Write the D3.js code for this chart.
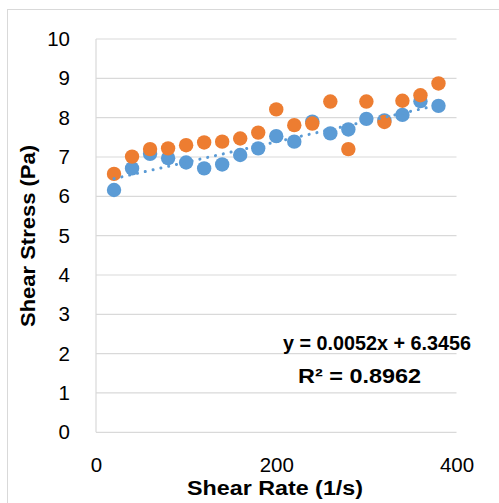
<!DOCTYPE html>
<html>
<head>
<meta charset="utf-8">
<script src="https://cdn.jsdelivr.net/npm/d3@7"></script>
<style>
  body { margin: 0; background: #fff; }
  svg text { font-family: "Liberation Sans", Arial, sans-serif; fill: #000; }
</style>
</head>
<body>
<div id="container"><svg></svg></div>
<script>
let width = 499;
let height = 503;

// shear rate (1/s)
let rates = [20, 40, 60, 80, 100, 120, 140, 160, 180, 200, 220, 240, 260, 280, 300, 320, 340, 360, 380];
// shear stress (Pa), blue series
let stressA = [6.16, 6.71, 7.08, 6.97, 6.86, 6.71, 6.81, 7.05, 7.22, 7.53, 7.39, 7.90, 7.60, 7.70, 7.97, 7.93, 8.07, 8.42, 8.30];
// shear stress (Pa), orange series
let stressB = [6.57, 7.01, 7.20, 7.22, 7.30, 7.37, 7.39, 7.47, 7.62, 8.21, 7.81, 7.85, 8.41, 7.20, 8.41, 7.89, 8.43, 8.57, 8.87];
// linear trendline of blue series, as reported
let trendSlope = 0.0052;
let trendIntercept = 6.3456;
let trendLabels = ["y = 0.0052x + 6.3456", "R\u00b2 = 0.8962"];

let xTicks = [0, 200, 400];
let yTicks = [0, 1, 2, 3, 4, 5, 6, 7, 8, 9, 10];

let svg = d3.select('#container').select('svg')
    .attr('width', width)
    .attr('height', height);

// chart frame
svg.append("rect")
    .attr("x", 7.5).attr("y", 9.5)
    .attr("width", 520).attr("height", 520)
    .attr("fill", "none")
    .attr("stroke", "#d9d9d9")
    .attr("stroke-width", 1);

let x = d3.scaleLinear().domain([0, 400]).range([96, 456.5]);
let y = d3.scaleLinear().domain([0, 10]).range([432.3, 39]);

// gridlines
svg.append("g")
    .selectAll("line")
    .data(yTicks)
    .join("line")
    .attr("x1", x(0)).attr("x2", x(400))
    .attr("y1", d => y(d)).attr("y2", d => y(d))
    .attr("stroke", "#d9d9d9")
    .attr("stroke-width", 1.2);

// left axis line
svg.append("line")
    .attr("x1", x(0)).attr("x2", x(0))
    .attr("y1", y(0)).attr("y2", y(10))
    .attr("stroke", "#d9d9d9")
    .attr("stroke-width", 1.2);

// tick labels
let yAxis = d3.axisLeft(y).tickValues(yTicks).tickSize(0).tickPadding(26);
let ya = svg.append("g").attr("transform", `translate(${x(0)},0)`).call(yAxis);
ya.select(".domain").remove();
ya.selectAll("text").attr("font-size", 20.5).attr("font-family", "Liberation Sans").attr("fill", "#000");

let xAxis = d3.axisBottom(x).tickValues(xTicks).tickSize(0).tickPadding(25);
let xa = svg.append("g").attr("transform", `translate(0,${y(0)})`).call(xAxis);
xa.select(".domain").remove();
xa.selectAll("text").attr("font-size", 20.5).attr("font-family", "Liberation Sans").attr("fill", "#000");

// series markers
svg.append("g")
    .selectAll("circle")
    .data(rates)
    .join("circle")
    .attr("cx", d => x(d))
    .attr("cy", (d, i) => y(stressA[i]))
    .attr("r", 7.2)
    .attr("fill", "#5b9bd5");

svg.append("g")
    .selectAll("circle")
    .data(rates)
    .join("circle")
    .attr("cx", d => x(d))
    .attr("cy", (d, i) => y(stressB[i]))
    .attr("r", 7.2)
    .attr("fill", "#ed7d31");

// dotted trendline
let xr = d3.extent(rates);
svg.append("line")
    .attr("x1", x(xr[0])).attr("y1", y(trendSlope * xr[0] + trendIntercept))
    .attr("x2", x(xr[1])).attr("y2", y(trendSlope * xr[1] + trendIntercept))
    .attr("stroke", "#5b9bd5")
    .attr("stroke-width", 3)
    .attr("stroke-linecap", "round")
    .attr("stroke-dasharray", "0.1 7.9");

// trendline label
svg.append("text")
    .attr("x", 377).attr("y", 350)
    .attr("text-anchor", "middle")
    .attr("font-size", 20).attr("font-weight", "bold")
    .attr("textLength", 188).attr("lengthAdjust", "spacingAndGlyphs")
    .text(trendLabels[0]);
svg.append("text")
    .attr("x", 359.5).attr("y", 383)
    .attr("text-anchor", "middle")
    .attr("font-size", 20).attr("font-weight", "bold")
    .attr("textLength", 123).attr("lengthAdjust", "spacingAndGlyphs")
    .text(trendLabels[1]);

// axis titles
svg.append("text")
    .attr("x", 275).attr("y", 495)
    .attr("text-anchor", "middle")
    .attr("font-size", 20).attr("font-weight", "bold")
    .attr("textLength", 176).attr("lengthAdjust", "spacingAndGlyphs")
    .text("Shear Rate (1/s)");

svg.append("text")
    .attr("transform", "translate(35,236) rotate(-90)")
    .attr("text-anchor", "middle")
    .attr("font-size", 20).attr("font-weight", "bold")
    .attr("textLength", 182).attr("lengthAdjust", "spacingAndGlyphs")
    .text("Shear Stress (Pa)");
</script>
</body>
</html>
